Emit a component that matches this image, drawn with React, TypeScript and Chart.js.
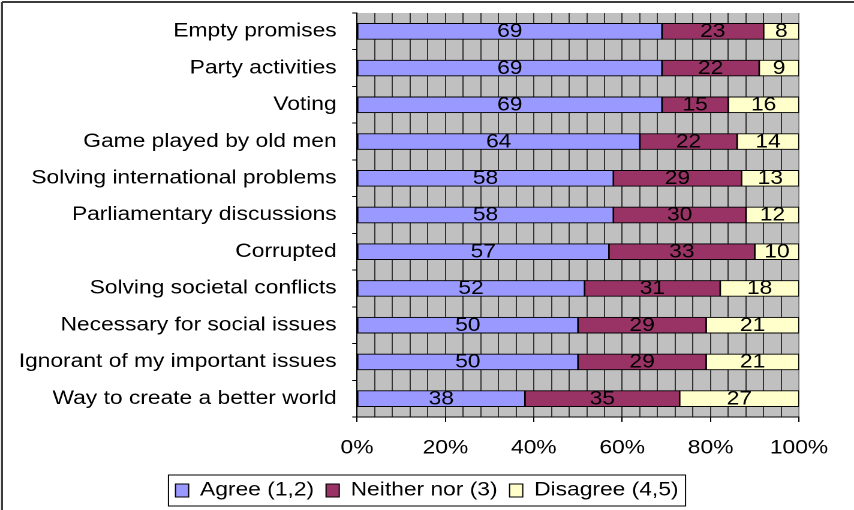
import React, { useEffect, useRef } from 'react';
import { Chart, registerables } from 'chart.js';

Chart.register(...registerables);

// ---- data ----
const categories = [
  'Empty promises',
  'Party activities',
  'Voting',
  'Game played by old men',
  'Solving international problems',
  'Parliamentary discussions',
  'Corrupted',
  'Solving societal conflicts',
  'Necessary for social issues',
  'Ignorant of my important issues',
  'Way to create a better world',
];
const agree = [69, 69, 69, 64, 58, 58, 57, 52, 50, 50, 38];
const neither = [23, 22, 15, 22, 29, 30, 33, 31, 29, 29, 35];
const disagree = [8, 9, 16, 14, 13, 12, 10, 18, 21, 21, 27];
const seriesNames = ['Agree (1,2)', 'Neither nor (3)', 'Disagree (4,5)'];
const seriesColors = ['#9999FF', '#993366', '#FFFFCC'];
const xMin = 0;
const xMax = 100;
const xGridStep = 4;
const xLabelStep = 20;

const series = [agree, neither, disagree];
const totals = categories.map((_, j) => series.reduce((s, arr) => s + arr[j], 0));

// ---- geometry (the reference image is horizontally stretched) ----
const OUT_W = 854;
const OUT_H = 510;
const W = 712;
const SX = OUT_W / W;
const FONT = '"Liberation Sans", Arial, Helvetica, sans-serif';
const PLOT_TOP = 13;
const PLOT_BOTTOM = 417;

const bgPlugin = {
  id: 'bgPlugin',
  beforeDraw(chart: any) {
    const { ctx, chartArea } = chart;
    ctx.save();
    ctx.fillStyle = '#ffffff';
    ctx.fillRect(0, 0, chart.width, chart.height);
    ctx.fillStyle = '#C0C0C0';
    ctx.fillRect(chartArea.left, chartArea.top, chartArea.right - chartArea.left, chartArea.bottom - chartArea.top);
    // outer frame (left and top edges visible)
    ctx.strokeStyle = '#3c3c3c';
    ctx.lineWidth = 2 / SX;
    ctx.beginPath();
    ctx.moveTo(2 / SX, chart.height + 5);
    ctx.lineTo(2 / SX, 2);
    ctx.stroke();
    ctx.lineWidth = 2;
    ctx.beginPath();
    ctx.moveTo(2 / SX, 2);
    ctx.lineTo(chart.width + 5, 2);
    ctx.stroke();
    ctx.restore();
  },
};

const dataLabelPlugin = {
  id: 'dataLabelPlugin',
  afterDatasetsDraw(chart: any) {
    const { ctx } = chart;
    ctx.save();
    ctx.font = `19px ${FONT}`;
    ctx.fillStyle = '#000';
    ctx.textAlign = 'center';
    ctx.textBaseline = 'middle';
    chart.data.datasets.forEach((_: any, i: number) => {
      const meta = chart.getDatasetMeta(i);
      meta.data.forEach((el: any, j: number) => {
        const { x, y, base } = el.getProps(['x', 'y', 'base'], true);
        ctx.fillText(String(series[i][j]), (x + base) / 2, y + 0.5);
      });
    });
    ctx.restore();
  },
};

const legendBorderPlugin = {
  id: 'legendBorderPlugin',
  afterDraw(chart: any) {
    const lg = chart.legend;
    if (!lg || !lg.legendHitBoxes || !lg.legendHitBoxes.length) return;
    const hb = lg.legendHitBoxes;
    const minX = Math.min(...hb.map((h: any) => h.left));
    const maxX = Math.max(...hb.map((h: any) => h.left + h.width));
    const minY = Math.min(...hb.map((h: any) => h.top));
    const maxY = Math.max(...hb.map((h: any) => h.top + h.height));
    const { ctx } = chart;
    ctx.save();
    ctx.strokeStyle = '#000';
    ctx.lineWidth = 1;
    const padX = 7 / SX;
    const padY = 6;
    ctx.strokeRect(minX - padX, minY - padY, maxX - minX + 2 * padX, maxY - minY + 2 * padY);
    ctx.restore();
  },
};

export default function App() {
  const ref = useRef<HTMLCanvasElement | null>(null);

  useEffect(() => {
    if (!ref.current) return;
    const chart = new Chart(ref.current, {
      type: 'bar',
      data: {
        labels: categories,
        datasets: series.map((arr, i) => ({
          label: seriesNames[i],
          data: arr.map((v, j) => (v / totals[j]) * 100),
          backgroundColor: seriesColors[i],
          borderColor: '#000',
          borderWidth: 1,
          borderSkipped: false,
          barThickness: 16,
          xAxisID: 'x',
          yAxisID: 'y',
        })),
      },
      options: {
        animation: false,
        responsive: false,
        devicePixelRatio: 2,
        indexAxis: 'y',
        events: [],
        layout: { padding: { top: PLOT_TOP, bottom: 0, left: 0, right: 0 } },
        plugins: {
          legend: {
            position: 'bottom',
            labels: {
              font: { family: FONT, size: 19 },
              color: '#000',
              boxWidth: 11,
              boxHeight: 13,
              padding: 10,
            },
          },
          tooltip: { enabled: false },
        },
        scales: {
          x: {
            type: 'linear',
            stacked: true,
            min: xMin,
            max: xMax,
            position: 'bottom',
            grid: {
              color: (c: any) => (c.tick && c.tick.value === xMax ? '#808080' : '#333333'),
              tickColor: (c: any) =>
                c.tick && c.tick.value % xLabelStep === 0 ? '#000000' : 'rgba(0,0,0,0)',
              tickLength: 5,
              lineWidth: 1,
            },
            border: { color: '#000', width: 1 },
            ticks: {
              stepSize: xGridStep,
              autoSkip: false,
              maxRotation: 0,
              padding: 15,
              color: '#000',
              font: { family: FONT, size: 19 },
              callback: (v: any) => (Number(v) % xLabelStep === 0 ? `${v}%` : ''),
            },
            afterFit: (s: any) => {
              const lh = s.chart.legend ? s.chart.legend.height || 0 : 0;
              s.height = OUT_H - PLOT_BOTTOM - lh;
              s.paddingTop = 0;
              s.paddingBottom = 0;
            },
          },
          y: {
            type: 'category',
            stacked: true,
            position: 'left',
            grid: {
              drawOnChartArea: false,
              drawTicks: true,
              tickLength: 4,
              tickColor: '#000',
              offset: true,
            },
            border: { color: '#000', width: 1 },
            ticks: {
              padding: 13,
              color: '#000',
              autoSkip: false,
              font: { family: FONT, size: 19 },
            },
            afterFit: (s: any) => {
              s.width = 357 / SX;
              s.paddingTop = 0;
              s.paddingBottom = 0;
            },
          },
          y2: {
            type: 'category',
            position: 'right',
            display: true,
            grid: { display: false },
            border: { display: false },
            ticks: { display: false },
            afterFit: (s: any) => {
              s.width = (OUT_W - 799) / SX;
              s.paddingTop = 0;
              s.paddingBottom = 0;
            },
          },
        },
      } as any,
      plugins: [bgPlugin, dataLabelPlugin, legendBorderPlugin],
    });
    return () => chart.destroy();
  }, []);

  return (
    <div style={{ position: 'absolute', left: 0, top: 0, width: OUT_W, height: OUT_H, background: '#fff' }}>
      <canvas
        ref={ref}
        width={W}
        height={OUT_H}
        style={{ width: `${OUT_W}px`, height: `${OUT_H}px`, display: 'block' }}
      />
    </div>
  );
}
